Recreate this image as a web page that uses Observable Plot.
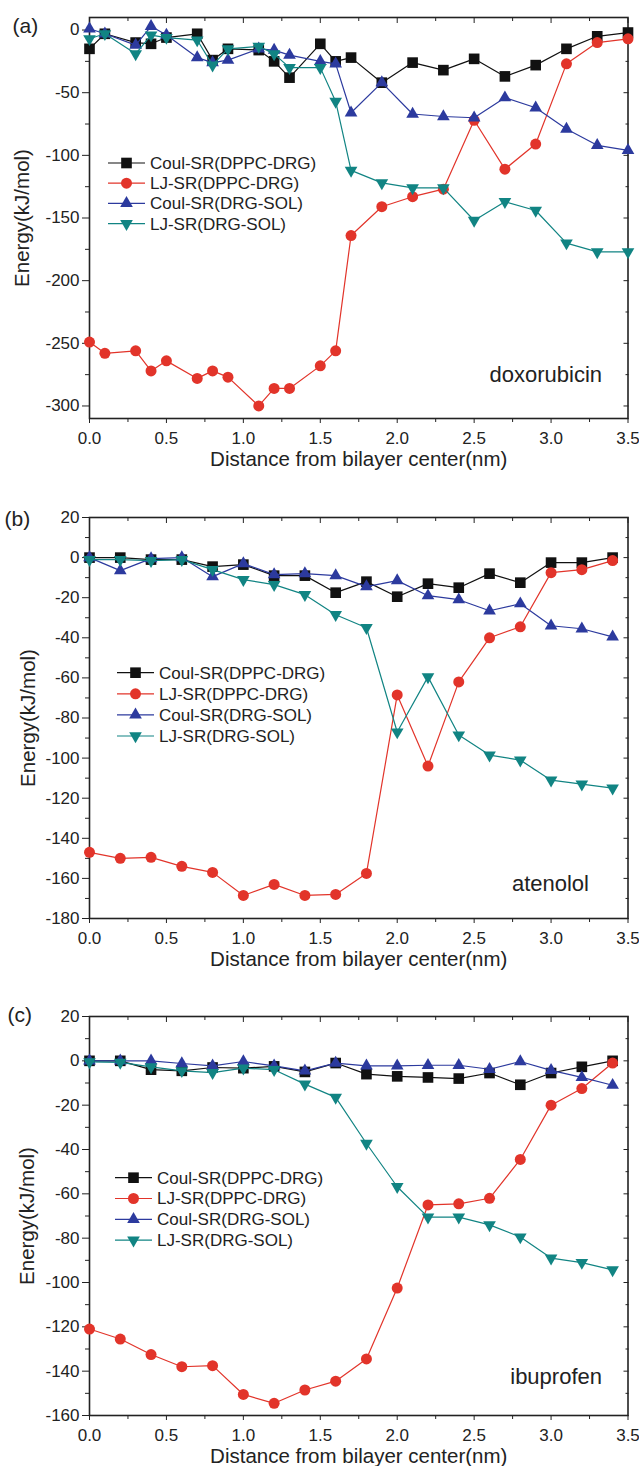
<!DOCTYPE html>
<html><head><meta charset="utf-8">
<script src="https://cdn.jsdelivr.net/npm/d3@7"></script>
<script src="https://cdn.jsdelivr.net/npm/@observablehq/plot@0.6"></script>
<style>
body{margin:0;background:#fff;}
.panel{position:relative;width:639px;}
svg{display:block}
.legend{position:absolute;left:0;top:0;pointer-events:none;overflow:visible}
</style></head><body><div id="wrap"></div>
<script>
// ---------- data ----------
const seriesNames = ["Coul-SR(DPPC-DRG)", "LJ-SR(DPPC-DRG)", "Coul-SR(DRG-SOL)", "LJ-SR(DRG-SOL)"];
const xTickValues = [0, 0.5, 1, 1.5, 2, 2.5, 3, 3.5];
const xMinorValues = [0.25, 0.75, 1.25, 1.75, 2.25, 2.75, 3.25];
const xTitle = "Distance from bilayer center(nm)";
const yTitle = "Energy(kJ/mol)";

// (a) doxorubicin
const aX = [0, 0.1, 0.3, 0.4, 0.5, 0.7, 0.8, 0.9, 1.1, 1.2, 1.3, 1.5, 1.6, 1.7, 1.9, 2.1, 2.3, 2.5, 2.7, 2.9, 3.1, 3.3, 3.5];
const aCoulDPPC = [-15, -3, -10, -11, -6, -3, -24, -15, -16, -25, -38, -11, -25, -22, -42, -26, -32, -23, -37, -28, -15, -5, -2];
const aLJDPPC = [-249, -258, -256, -272, -264, -278, -272, -277, -300, -286, -286, -268, -256, -164, -141, -133, -127, -72, -111, -91, -27, -10, -7];
const aCoulSOL = [1, -3, -12, 3, -4, -22, -26, -24, -15, -16, -20, -25, -27, -66, -42, -67, -69, -70, -54, -62, -79, -92, -96];
const aLJSOL = [-7, -3, -19, -4, -6, -8, -28, -15, -13, -19, -30, -30, -57, -112, -122, -126, -126, -152, -137, -144, -170, -177, -177];
const aYTicks = [-300, -250, -200, -150, -100, -50, 0];
const aYMinor = [-275, -225, -175, -125, -75, -25];

// (b) atenolol
const bX = [0, 0.2, 0.4, 0.6, 0.8, 1.0, 1.2, 1.4, 1.6, 1.8, 2.0, 2.2, 2.4, 2.6, 2.8, 3.0, 3.2, 3.4];
const bCoulDPPC = [0, 0, -1, -1, -4.5, -3.5, -9, -9, -17.5, -12, -19.5, -13, -15, -8, -12.5, -2.5, -2.5, 0];
const bLJDPPC = [-147, -150, -149.5, -154, -157, -168.5, -163, -168.5, -168, -157.5, -68.5, -104, -62, -40, -34.5, -7.5, -6, -1.5];
const bCoulSOL = [0, -6.5, -0.5, 0, -9.5, -3, -8.5, -8, -9, -14.5, -11.5, -19, -21, -26.5, -23, -34, -35.5, -39.5];
const bLJSOL = [-1, -1, -1.5, -1, -6, -11, -13.5, -18.5, -28.5, -35, -87, -59.5, -88.5, -98.5, -101, -111, -113, -115];
const bYTicks = [-180, -160, -140, -120, -100, -80, -60, -40, -20, 0, 20];
const bYMinor = [-170, -150, -130, -110, -90, -70, -50, -30, -10, 10];

// (c) ibuprofen
const cX = [0, 0.2, 0.4, 0.6, 0.8, 1.0, 1.2, 1.4, 1.6, 1.8, 2.0, 2.2, 2.4, 2.6, 2.8, 3.0, 3.2, 3.4];
const cCoulDPPC = [0, 0, -4, -4.5, -3, -3.3, -2.5, -5, -1, -6, -7, -7.5, -8, -5.5, -10.8, -5.5, -2.7, 0];
const cLJDPPC = [-121, -125.5, -132.5, -138, -137.5, -150.5, -154.5, -148.5, -144.5, -134.5, -102.5, -65, -64.5, -62, -44.5, -20, -12.5, -1];
const cCoulSOL = [0, 0, 0, -1.2, -2.3, -0.3, -2.3, -4.5, -1, -2.3, -2.3, -2, -2, -3.8, -0.3, -4.3, -7.5, -11];
const cLJSOL = [-0.5, -0.7, -2.7, -4.5, -5.3, -3.3, -4, -10.5, -16.5, -37.3, -56.8, -70.5, -70.5, -74, -79.5, -89, -91, -94.3];
const cYTicks = [-160, -140, -120, -100, -80, -60, -40, -20, 0, 20];
const cYMinor = [-150, -130, -110, -90, -70, -50, -30, -10, 10];

// ---------- styles ----------
const seriesColors = ["#111111", "#e2342a", "#2c3a9e", "#118483"];
const seriesSymbols = ["square", "circle", "triangle", "triangle"];
const seriesRotate = [0, 0, 0, 180];
const seriesR = [6, 5.5, 4.7, 4.7];
const AX = "#222";
const FONT = "'Liberation Sans', Arial, Helvetica, sans-serif";

const panels = [
  {tag: "(a)", name: "doxorubicin", x: aX, series: [aCoulDPPC, aLJDPPC, aCoulSOL, aLJSOL],
   yDomain: [-310, 10], yTicks: aYTicks, yMinor: aYMinor,
   height: 490, mt: 17, mb: 72, tagPos: [12, 26], yLabelX: 14,
   nameDx: -26, nameDy: -37, legend: {x: 108, y: 163, dy: 20.2}},
  {tag: "(b)", name: "atenolol", x: bX, series: [bCoulDPPC, bLJDPPC, bCoulSOL, bLJSOL],
   yDomain: [-180, 20], yTicks: bYTicks, yMinor: bYMinor,
   height: 495, mt: 27, mb: 67, tagPos: [4, 29], yLabelX: 20,
   nameDx: -39, nameDy: -28, legend: {x: 117, y: 182.7, dy: 21.1}},
  {tag: "(c)", name: "ibuprofen", x: cX, series: [cCoulDPPC, cLJDPPC, cCoulSOL, cLJSOL],
   yDomain: [-160, 20], yTicks: cYTicks, yMinor: cYMinor,
   height: 481, mt: 31, mb: 51, tagPos: [7, 30], yLabelX: 19,
   nameDx: -26, nameDy: -32, legend: {x: 115, y: 192.7, dy: 20.8}}
];

const ML = 89, MR = 11.5, W = 639;
const wrap = document.getElementById("wrap");

for (const p of panels) {
  const marks = [];
  // ticks
  marks.push(Plot.axisX({ticks: xMinorValues, tickSize: 4, tickFormat: () => "", label: null, stroke: AX}));
  marks.push(Plot.axisX({ticks: xTickValues, tickSize: 5, tickPadding: 8, tickFormat: d3.format(".1f"), fontSize: 17, label: null, stroke: AX, fill: AX}));
  marks.push(Plot.axisX({anchor: "top", ticks: xTickValues, tickSize: -5, tickFormat: () => "", label: null, stroke: AX}));
  marks.push(Plot.axisX({anchor: "top", ticks: xMinorValues, tickSize: -3, tickFormat: () => "", label: null, stroke: AX}));
  marks.push(Plot.axisY({ticks: p.yMinor, tickSize: 4, tickFormat: () => "", label: null, stroke: AX}));
  marks.push(Plot.axisY({ticks: p.yTicks, tickSize: 7, tickPadding: 3, tickFormat: d => String(d), fontSize: 17, label: null, stroke: AX, fill: AX}));
  marks.push(Plot.axisY({anchor: "right", ticks: p.yTicks, tickSize: -5, tickFormat: () => "", label: null, stroke: AX}));
  marks.push(Plot.axisY({anchor: "right", ticks: p.yMinor, tickSize: -3, tickFormat: () => "", label: null, stroke: AX}));
  marks.push(Plot.frame({stroke: AX, strokeWidth: 1.6}));
  // titles
  marks.push(Plot.text([xTitle], {text: d => d, frameAnchor: "bottom", dy: 47, textAnchor: "middle", lineAnchor: "bottom", fontSize: 20.5, fill: AX}));
  marks.push(Plot.text([yTitle], {text: d => d, frameAnchor: "left", dx: p.yLabelX - ML, rotate: -90, textAnchor: "middle", lineAnchor: "top", fontSize: 20.5, fill: AX}));
  marks.push(Plot.text([p.tag], {text: d => d, frameAnchor: "top-left", dx: p.tagPos[0] - ML, dy: p.tagPos[1] - p.mt, textAnchor: "start", lineAnchor: "middle", fontSize: 21, fill: AX}));
  marks.push(Plot.text([p.name], {text: d => d, frameAnchor: "bottom-right", dx: p.nameDx, dy: p.nameDy, textAnchor: "end", lineAnchor: "bottom", fontSize: 22, fill: AX}));
  // series
  p.series.forEach((vals, s) => {
    const rows = vals.map((v, i) => ({x: p.x[i], y: v}));
    marks.push(Plot.line(rows, {x: "x", y: "y", stroke: seriesColors[s], strokeWidth: 1.2}));
    marks.push(Plot.dot(rows, {x: "x", y: "y", symbol: seriesSymbols[s], r: seriesR[s], fill: seriesColors[s], rotate: seriesRotate[s], stroke: "none"}));
  });

  const chart = Plot.plot({
    width: W, height: p.height,
    marginLeft: ML, marginRight: MR, marginTop: p.mt, marginBottom: p.mb,
    x: {domain: [0, 3.5]},
    y: {domain: p.yDomain},
    style: {fontFamily: FONT, fontSize: "16px", color: AX, background: "white", overflow: "visible"},
    marks
  });

  const div = document.createElement("div");
  div.className = "panel";
  div.appendChild(chart);
  // legend overlay
  const lg = d3.create("svg").attr("class", "legend").attr("width", W).attr("height", p.height)
    .style("font-family", FONT);
  const symMap = {square: d3.symbolSquare, circle: d3.symbolCircle, triangle: d3.symbolTriangle};
  seriesNames.forEach((nm, s) => {
    const y = p.legend.y + s * p.legend.dy;
    const x0 = p.legend.x;
    lg.append("line").attr("x1", x0).attr("x2", x0 + 37).attr("y1", y).attr("y2", y)
      .attr("stroke", seriesColors[s]).attr("stroke-width", 1.2);
    lg.append("path").attr("d", d3.symbol(symMap[seriesSymbols[s]], Math.PI * seriesR[s] ** 2)())
      .attr("transform", `translate(${x0 + 18.5},${y}) rotate(${seriesRotate[s]})`)
      .attr("fill", seriesColors[s]);
    lg.append("text").attr("x", x0 + 42).attr("y", y).attr("dy", "0.35em")
      .attr("font-size", 17).attr("fill", AX).text(nm);
  });
  div.appendChild(lg.node());
  wrap.appendChild(div);
}
</script>
</body></html>
